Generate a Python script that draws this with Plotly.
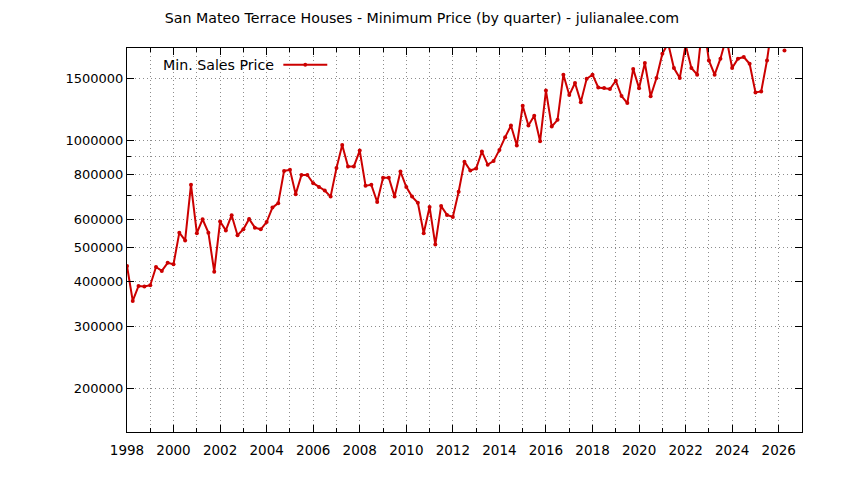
import plotly.graph_objects as go

# quarterly minimum sales price, 1998 Q1 .. 2026 Q2
years = list(range(1998, 2027))
quarter_months = ["01", "04", "07", "10"]
quarters = [f"{y}-{m}-01" for y in years for m in quarter_months][:114]

min_price = [
    443000, 353000, 389000, 388000, 391000, 440000, 429000, 452000,
    448000, 550000, 523000, 751000, 548000, 600000, 550000, 427000,
    591000, 558000, 616000, 541000, 562000, 601000, 568000, 562000,
    589000, 647000, 666000, 821000, 827000, 706000, 800000, 800000,
    758000, 739000, 723000, 695000, 836000, 972000, 845000, 845000,
    937000, 746000, 750000, 671000, 785000, 785000, 695000, 818000,
    739000, 695000, 668000, 548000, 650000, 509000, 654000, 617000,
    609000, 717000, 872000, 823000, 834000, 931000, 855000, 875000,
    941000, 1022000, 1102000, 968000, 1253000, 1102000, 1174000, 995000,
    1383000, 1095000, 1144000, 1533000, 1343000, 1453000, 1283000, 1493000,
    1533000, 1411000, 1406000, 1397000, 1474000, 1335000, 1275000, 1592000,
    1404000, 1654000, 1333000, 1500000, 1757000, 1880000, 1601000, 1500000,
    1860000, 1601000, 1533000, 2200000, 1682000, 1533000, 1701000, 1950000,
    1601000, 1701000, 1720000, 1646000, 1366000, 1375000, 1682000, 2200000,
    None, 1795000,
]

y_ticks = [200000, 300000, 400000, 500000, 600000, 800000, 1000000, 1500000]
y_extra_grid = [700000, 900000]

red = "#cc0000"
grid = "#8c8c8c"
grid_dash = "1px,3px"
font = "DejaVu Sans"

fig = go.Figure()
fig.add_trace(go.Scatter(
    x=quarters, y=min_price, mode="lines+markers", name="Min. Sales Price",
    line=dict(color=red, width=2), marker=dict(color=red, size=4),
    connectgaps=False, cliponaxis=True, showlegend=False,
))

fig.update_layout(
    width=844, height=480,
    margin=dict(l=127, r=42, t=48, b=48),
    paper_bgcolor="white", plot_bgcolor="white",
    font=dict(family=font, size=13, color="black"),
    title=dict(text="San Mateo Terrace Houses - Minimum Price (by quarter) - julianalee.com",
               x=0.5, xref="container", xanchor="center",
               y=1 - 18 / 480, yref="container", yanchor="middle",
               font=dict(family=font, size=14.2, color="black")),
)

fig.update_xaxes(
    type="date", range=["1998-01-01", "2027-01-01"],
    tick0="1998-01-01", dtick="M24", tickformat="%Y",
    ticks="inside", ticklen=7, tickcolor="black",
    showline=True, linecolor="black", linewidth=1, mirror="ticks",
    showgrid=True, gridcolor=grid, griddash=grid_dash, gridwidth=1,
    minor=dict(dtick="M12", tick0="1998-01-01", ticks="inside", ticklen=4,
               tickcolor="black", showgrid=True, gridcolor=grid, griddash=grid_dash),
    ticklabelstandoff=6, zeroline=False,
    tickfont=dict(size=13.5),
)

fig.update_yaxes(
    type="log", range=[5.1784, 6.2608],
    tickvals=y_ticks, ticktext=[str(v) for v in y_ticks],
    ticks="inside", ticklen=7, tickcolor="black",
    showline=True, linecolor="black", linewidth=1, mirror="ticks",
    showgrid=True, gridcolor=grid, griddash=grid_dash, gridwidth=1,
    minor=dict(tickvals=y_extra_grid, ticks="inside", ticklen=4, tickcolor="black",
               showgrid=True, gridcolor=grid, griddash=grid_dash),
    zeroline=False,
)

# gnuplot-style key: text first, then the sample line
fig.add_annotation(text="Min. Sales Price", xref="paper", yref="paper",
                   x=0.2212, y=0.9564, xanchor="right", yanchor="middle",
                   showarrow=False, font=dict(family=font, size=14.2, color="black"))
fig.add_shape(type="line", xref="paper", yref="paper",
              x0=0.2316, x1=0.2967, y0=0.9564, y1=0.9564,
              line=dict(color=red, width=2))
fig.add_shape(type="circle", xref="paper", yref="paper",
              x0=0.2641 - 0.0028, x1=0.2641 + 0.0028,
              y0=0.9564 - 0.005, y1=0.9564 + 0.005,
              fillcolor=red, line=dict(color=red, width=0))

# page body has an 8px default margin; drop it so the figure sits at 0,0
fig.write_html("out.html", config={"displayModeBar": False},
               post_script="document.body.style.margin='0px';")
